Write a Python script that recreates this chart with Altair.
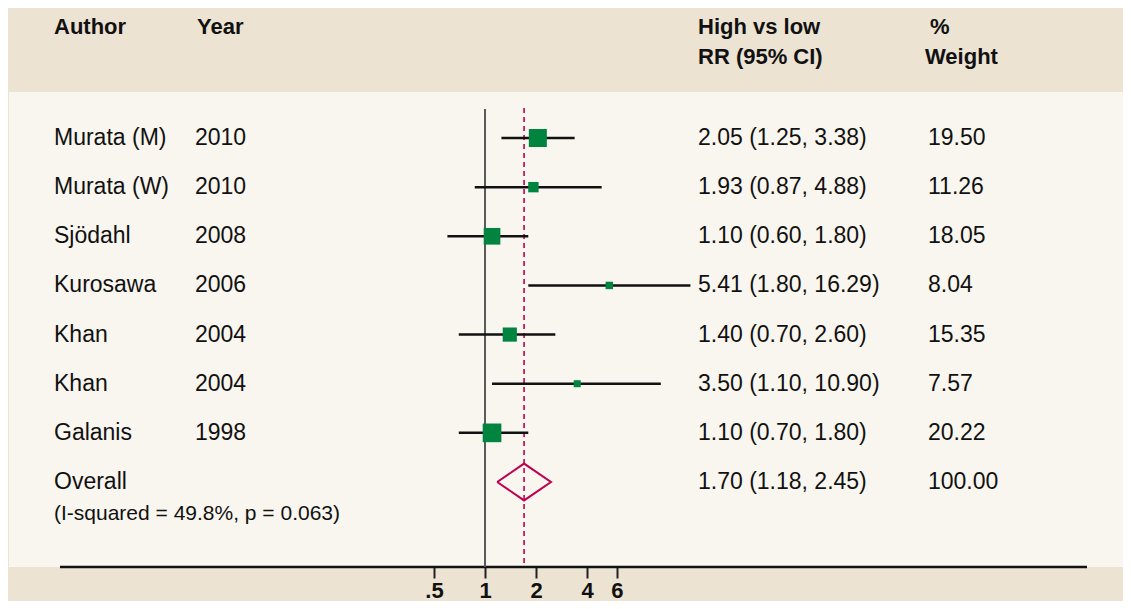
import altair as alt
import pandas as pd

# ---- data ----
authors = ["Murata (M)", "Murata (W)", "Sjödahl", "Kurosawa", "Khan", "Khan", "Galanis"]
years = ["2010", "2010", "2008", "2006", "2004", "2004", "1998"]
rr = [2.05, 1.93, 1.10, 5.41, 1.40, 3.50, 1.10]
lo = [1.25, 0.87, 0.60, 1.80, 0.70, 1.10, 0.70]
hi = [3.38, 4.88, 1.80, 16.29, 2.60, 10.90, 1.80]
weights = [19.50, 11.26, 18.05, 8.04, 15.35, 7.57, 20.22]

overall_label = "Overall"
overall_rr, overall_lo, overall_hi = 1.70, 1.18, 2.45
overall_weight = 100.00
heterogeneity = "(I-squared = 49.8%, p = 0.063)"

tick_values = [0.5, 1, 2, 4, 6]

# ---- tables ----
n = len(authors)
studies = pd.DataFrame({
    "row": list(range(n)),
    "author": authors,
    "year": years,
    "rr": rr,
    "lo": lo,
    "hi": hi,
    "weight": weights,
})

text_rows = pd.DataFrame({
    "row": list(range(n + 1)),
    "author": authors + [overall_label],
    "year": years + [""],
    "rr_text": [f"{r:.2f} ({l:.2f}, {h:.2f})" for r, l, h in zip(rr, lo, hi)]
    + [f"{overall_rr:.2f} ({overall_lo:.2f}, {overall_hi:.2f})"],
    "w_text": [f"{w:.2f}" for w in weights] + [f"{overall_weight:.2f}"],
})

half_h = 0.375
diamond = pd.DataFrame({
    "x": [overall_lo, overall_rr, overall_hi, overall_rr, overall_lo],
    "y": [n, n - half_h, n, n + half_h, n],
    "o": [0, 1, 2, 3, 4],
})

FONT = "Liberation Sans"
INK = "#111111"
GREEN = "#00843F"
CRIMSON = "#BE0050"
BASE = 559  # plot-area bottom (axis line)

xscale = alt.Scale(type="log", domain=[0.5, 20], range=[426.0, 697.5], nice=False)
yscale = alt.Scale(domain=[0, n], range=[130, 474], nice=False, zero=False)
xaxis = alt.Axis(
    values=tick_values,
    labelExpr="datum.value < 1 ? '.5' : format(datum.value, 'd')",
    title=None, domain=False, grid=False,
    tickSize=11, tickWidth=2, tickColor="#222222",
    labelFont=FONT, labelFontSize=22, labelFontWeight="bold", labelColor=INK,
    labelPadding=2, labelFlush=False, labelOverlap=False,
)


def X(field):
    return alt.X(field, scale=xscale, axis=xaxis)


def Y(field):
    return alt.Y(field, scale=yscale, axis=None)


one = pd.DataFrame({"a": [0]})

panel = alt.Chart(one).mark_rect(color="#F9F6EF").encode(
    x=alt.value(1), x2=alt.value(1115), y=alt.value(84), y2=alt.value(BASE)
)

axis_line = alt.Chart(one).mark_rule(color=INK, strokeWidth=2.5).encode(
    x=alt.value(52), x2=alt.value(1079), y=alt.value(BASE)
)

null_line = alt.Chart(pd.DataFrame({"v": [1.0]})).mark_rule(
    color="#5a5a5a", strokeWidth=2
).encode(x=X("v:Q"), y=alt.value(101), y2=alt.value(BASE))

overall_line = alt.Chart(pd.DataFrame({"v": [overall_rr]})).mark_rule(
    color=CRIMSON, strokeWidth=1.6, strokeDash=[5, 4]
).encode(x=X("v:Q"), y=alt.value(100), y2=alt.value(BASE))

ci = alt.Chart(studies).mark_rule(color=INK, strokeWidth=2.5).encode(
    x=X("lo:Q"), x2="hi:Q", y=Y("row:Q")
)

boxes = alt.Chart(studies).mark_square(color=GREEN, opacity=1).encode(
    x=X("rr:Q"),
    y=Y("row:Q"),
    size=alt.Size("weight:Q", scale=alt.Scale(type="pow", exponent=2, domain=[0, 19.5], range=[0, 324]), legend=None),
)

dia = alt.Chart(diamond).mark_line(color=CRIMSON, strokeWidth=2).encode(
    x=X("x:Q"), y=Y("y:Q"), order="o:Q"
)


def col(field, xpos):
    return alt.Chart(text_rows).mark_text(
        align="left", baseline="middle", font=FONT, fontSize=23, color=INK
    ).encode(x=alt.value(xpos), y=Y("row:Q"), text=f"{field}:N")


het = alt.Chart(pd.DataFrame({"row": [n], "t": [heterogeneity]})).mark_text(
    align="left", baseline="middle", font=FONT, fontSize=21, color=INK, dy=32
).encode(x=alt.value(46), y=Y("row:Q"), text="t:N")


def header(txt, xpos, ypos):
    return alt.Chart(pd.DataFrame({"t": [txt]})).mark_text(
        align="left", baseline="alphabetic", font=FONT, fontSize=22,
        fontWeight="bold", color=INK
    ).encode(x=alt.value(xpos), y=alt.value(ypos), text="t:N")


headers = [
    header("Author", 46, 26),
    header("Year", 189, 26),
    header("High vs low", 690, 26),
    header("RR (95% CI)", 690, 56),
    header("%", 922, 26),
    header("Weight", 917, 56),
]

chart = alt.layer(
    panel, axis_line, null_line, overall_line, ci, boxes, dia,
    col("author", 46), col("year", 187), col("rr_text", 690), col("w_text", 920),
    het, *headers,
).properties(
    width=1115, height=BASE,
    padding={"left": 0, "top": 0, "right": 0, "bottom": 593 - BASE},
    autosize=alt.AutoSizeParams(type="none"),
    background="#ECE3D3",
).configure_view(stroke=None)

chart.save("out.html", embed_options={"renderer": "svg", "actions": False})
